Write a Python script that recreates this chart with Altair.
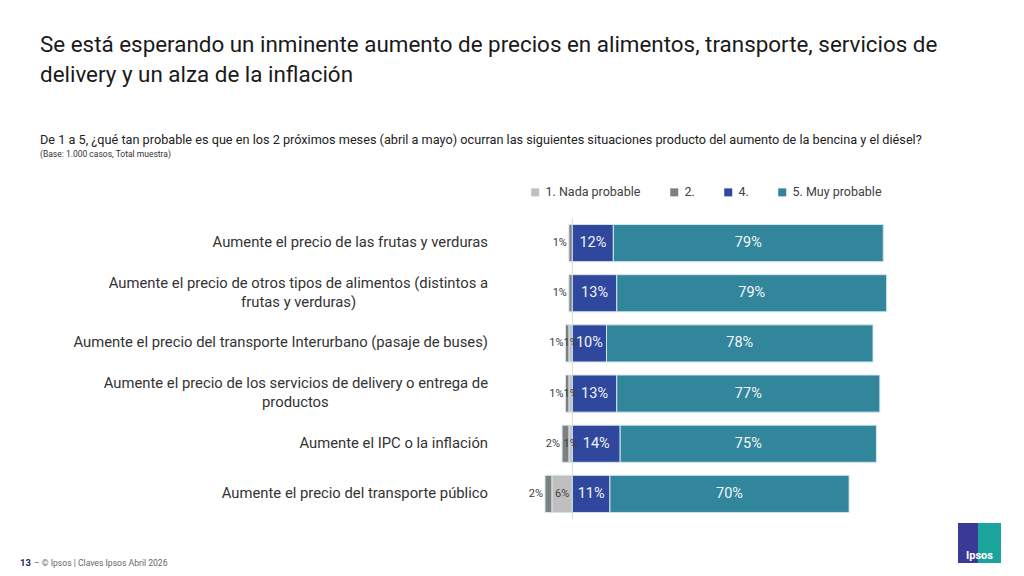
import altair as alt
import pandas as pd

# ---------------- data ----------------
categories = [
    "Aumente el precio de las frutas y verduras",
    "Aumente el precio de otros tipos de alimentos (distintos a|frutas y verduras)",
    "Aumente el precio del transporte Interurbano (pasaje de buses)",
    "Aumente el precio de los servicios de delivery o entrega de|productos",
    "Aumente el IPC o la inflación",
    "Aumente el precio del transporte público",
]
nada = [0, 0, 1, 1, 1, 6]        # 1. Nada probable
dos = [1, 1, 1, 1, 2, 2]         # 2.
cuatro = [12, 13, 10, 13, 14, 11]  # 4.
cinco = [79, 79, 78, 77, 75, 70]   # 5. Muy probable

series = ["1. Nada probable", "2.", "4.", "5. Muy probable"]
colors = ["#bfbfbf", "#7f7f7f", "#2f479d", "#32869c"]

title_text = ("Se está esperando un inminente aumento de precios en alimentos, transporte, servicios de|"
              "delivery y un alza de la inflación")
subtitle_text = ("De 1 a 5, ¿qué tan probable es que en los 2 próximos meses (abril a mayo) ocurran las "
                 "siguientes situaciones producto del aumento de la bencina y el diésel?")
base_text = "(Base: 1.000 casos, Total muestra)"
footer_num = "13"
footer_text = "–  © Ipsos | Claves Ipsos Abril 2026"

# ---------------- tables ----------------
rows = []
for i, cat in enumerate(categories):
    n, d, c4, c5 = nada[i], dos[i], cuatro[i], cinco[i]
    segs = [
        (series[0], -n, 0, n),
        (series[1], -(n + d), -n, d),
        (series[2], 0, c4, c4),
        (series[3], c4, c4 + c5, c5),
    ]
    for s, a, b, v in segs:
        rows.append({"cat": cat, "serie": s, "start": a, "end": b, "value": v,
                     "label": f"{v}%", "mid": (a + b) / 2})
df = pd.DataFrame(rows)

labs = pd.DataFrame({"cat": categories})
labs["l1"] = labs["cat"].str.split("|").str[0]
labs["l2"] = labs["cat"].str.split("|").str[1].fillna("")

FONT = "Roboto"
W, H = 410, 301
XDOM = [-20, 100]

xs = alt.Scale(domain=XDOM, nice=False, zero=False)
ys = alt.Scale(domain=categories, paddingInner=0.26, paddingOuter=0.13)

base = alt.Chart(df)

zero_rule = alt.Chart(pd.DataFrame({"z": [0]})).mark_rule(color="#d9d9d9", strokeWidth=1).encode(
    x=alt.X("z:Q", scale=xs, axis=None)
)

bars = base.transform_filter("datum.value > 0").mark_bar(
    stroke="#d3e5ec", strokeWidth=1
).encode(
    x=alt.X("start:Q", scale=xs, axis=None),
    x2="end:Q",
    y=alt.Y("cat:N", scale=ys, axis=None, sort=categories),
    color=alt.Color(
        "serie:N",
        scale=alt.Scale(domain=series, range=colors),
        legend=alt.Legend(
            orient="none", legendX=25, legendY=-32, direction="horizontal", title=None,
            symbolType="square", symbolSize=64, symbolStrokeWidth=0,
            labelFont=FONT, labelFontSize=12.5, labelColor="#404040",
            columnPadding=27, labelOffset=4,
        ),
    ),
)

inner_labels = base.transform_filter(
    f"(datum.serie == '{series[2]}' || datum.serie == '{series[3]}') && datum.value > 0"
).mark_text(font=FONT, fontSize=14.5, color="#f2f6f8", baseline="middle").encode(
    x=alt.X("mid:Q", scale=xs, axis=None),
    y=alt.Y("cat:N", scale=ys, axis=None, sort=categories),
    text="label:N",
)

nada_labels = base.transform_filter(
    f"datum.serie == '{series[0]}' && datum.value > 0"
).mark_text(font=FONT, fontSize=11, color="#404040", baseline="middle").encode(
    x=alt.X("mid:Q", scale=xs, axis=None),
    y=alt.Y("cat:N", scale=ys, axis=None, sort=categories),
    text="label:N",
)

dos_labels = base.transform_filter(
    f"datum.serie == '{series[1]}' && datum.value > 0"
).mark_text(font=FONT, fontSize=11, color="#404040", baseline="middle", align="right", dx=-2).encode(
    x=alt.X("start:Q", scale=xs, axis=None),
    y=alt.Y("cat:N", scale=ys, axis=None, sort=categories),
    text="label:N",
)

lab_base = alt.Chart(labs)
LABEL_RIGHT = -16  # pixels left of the plot area
CHARW = 6.53
LFS = 14.8

single = lab_base.transform_filter("datum.l2 == ''").mark_text(
    font=FONT, fontSize=LFS, color="#333333", align="right", baseline="middle"
).encode(
    x=alt.value(LABEL_RIGHT),
    y=alt.Y("cat:N", scale=ys, axis=None, sort=categories),
    text="l1:N",
)
multi1 = lab_base.transform_filter("datum.l2 != ''").mark_text(
    font=FONT, fontSize=LFS, color="#333333", align="right", baseline="middle", dy=-9.5
).encode(
    x=alt.value(LABEL_RIGHT),
    y=alt.Y("cat:N", scale=ys, axis=None, sort=categories),
    text="l1:N",
)
multi2 = lab_base.transform_filter("datum.l2 != ''").transform_calculate(
    xd=f"{XDOM[0]} + ({LABEL_RIGHT} - length(datum.l1) * {CHARW} / 2) * {XDOM[1] - XDOM[0]} / {W}"
).mark_text(
    font=FONT, fontSize=LFS, color="#333333", align="center", baseline="middle", dy=9.5
).encode(
    x=alt.X("xd:Q", scale=xs, axis=None),
    y=alt.Y("cat:N", scale=ys, axis=None, sort=categories),
    text="l2:N",
)

one = pd.DataFrame({"a": [0]})

def txt(text, x, y, **kw):
    return alt.Chart(one).mark_text(text=text, align="left", baseline="alphabetic", font=FONT, **kw).encode(
        x=alt.value(x), y=alt.value(y)
    )

title = txt(title_text, -464, -166, fontSize=22.4, color="#1a1a1a", lineBreak="|", lineHeight=30)
subtitle = txt(subtitle_text, -464, -74, fontSize=12.7, color="#222222")
base_note = txt(base_text, -464, -61, fontSize=8.5, color="#333333")
foot1 = txt(footer_num, -484, 348, fontSize=9.5, color="#1f2a5c", fontWeight="bold")
foot2 = txt(footer_text, -470, 348, fontSize=8.6, color="#666666")

logo_blue = alt.Chart(one).mark_rect(color="#3a3a96").encode(
    x=alt.value(454), x2=alt.value(474), y=alt.value(305), y2=alt.value(345)
)
logo_teal = alt.Chart(one).mark_rect(color="#1ba49b").encode(
    x=alt.value(474), x2=alt.value(497), y=alt.value(305), y2=alt.value(345)
)
logo_text = alt.Chart(one).mark_text(
    text="Ipsos", font=FONT, fontSize=11, fontWeight="bold", color="white", align="center", baseline="alphabetic"
).encode(x=alt.value(475.5), y=alt.value(341))

chart = alt.layer(
    zero_rule, bars, inner_labels, nada_labels, dos_labels,
    single, multi1, multi2,
    title, subtitle, base_note, foot1, foot2,
    logo_blue, logo_teal, logo_text,
).properties(
    width=W, height=H,
    padding={"left": 496, "top": 210, "right": 102, "bottom": 49},
    autosize=alt.AutoSizeParams(type="none"),
    background="white",
).configure_view(stroke=None)

chart.save("out.html", embed_options={"renderer": "svg", "actions": False})
